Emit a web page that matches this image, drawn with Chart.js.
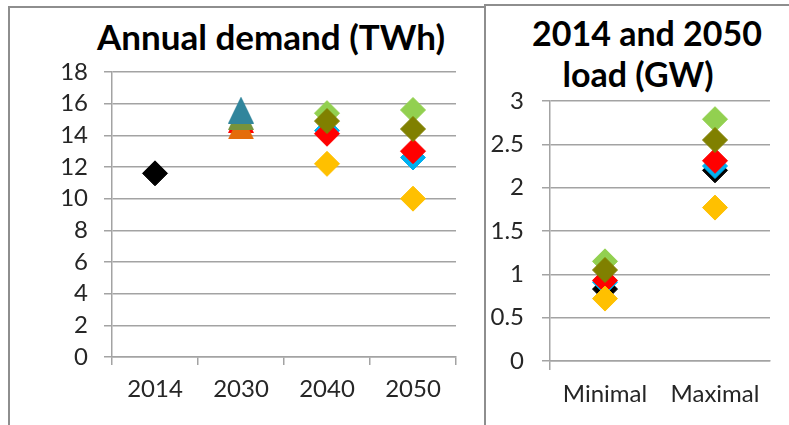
<!DOCTYPE html>
<html>
<head>
<meta charset="utf-8">
<script src="https://cdn.jsdelivr.net/npm/chart.js@4.4.0/dist/chart.umd.min.js"></script>
<style>
  html, body { margin: 0; padding: 0; background: #ffffff; }
  body { width: 789px; height: 425px; position: relative; overflow: hidden; font-family: Lato, "Open Sans", sans-serif; }
  .panel { position: absolute; box-sizing: border-box; border: 2px solid #8e8e8e; }
  #leftPanel { left: 8px; top: 6px; width: 478px; height: 450px; }
  #rightPanel { left: 484px; top: 4px; width: 330px; height: 450px; }
  .title { position: absolute; font-weight: bold; color: #000; text-align: center; white-space: nowrap; font-size: 35px; line-height: 40px; }
  #demandTitle { left: 71px; width: 400px; top: 16px; }
  #loadTitle1 { left: 497px; width: 300px; top: 13px; font-size: 34px; }
  #loadTitle2 { left: 488px; width: 300px; top: 54px; font-size: 34px; }
  #demandWrap { position: absolute; left: 0; top: 0; width: 484px; height: 425px; }
  #loadWrap { position: absolute; left: 486px; top: 0; width: 303px; height: 425px; }
</style>
</head>
<body>
<div class="panel" id="leftPanel"></div>
<div class="panel" id="rightPanel"></div>
<div class="title" id="demandTitle">Annual demand (TWh)</div>
<div class="title" id="loadTitle1">2014 and 2050</div>
<div class="title" id="loadTitle2">load (GW)</div>
<div id="demandWrap"><canvas id="demandChart" width="484" height="425"></canvas></div>
<div id="loadWrap"><canvas id="loadChart" width="303" height="425"></canvas></div>

<script>
// ---- Annual demand (TWh) by year ----
const yearLabels = ['2014', '2030', '2040', '2050'];
const demandActual     = [11.6, null, null, null];
const demandBlue       = [null, null, 14.3, 12.6];
const demandRed        = [null, null, 14.1, 13.0];
const demandLightGreen = [null, null, 15.4, 15.6];
const demandOlive      = [null, null, 14.9, 14.4];
const demandGold       = [null, null, 12.2, 10.0];
// 2030 projections (triangles)
const demandTeal2030   = [null, 15.6, null, null];
const demandGreen2030  = [null, 15.2, null, null];
const demandRed2030    = [null, 15.0, null, null];
const demandOrange2030 = [null, 14.6, null, null];
const demandAxis = { min: 0, max: 18, step: 2 };

// ---- 2014 and 2050 load (GW) ----
const loadLabels = ['Minimal', 'Maximal'];
const loadBlack      = [0.83, 2.20];
const loadBlue       = [0.91, 2.25];
const loadRed        = [0.93, 2.31];
const loadLightGreen = [1.15, 2.79];
const loadOlive      = [1.05, 2.55];
const loadGold       = [0.72, 1.77];
const loadAxis = { min: 0, max: 3, step: 0.5 };

const GRID = '#a3a3a3';
const TICK_FONT = { family: 'Lato', size: 24 };

// Solid upright triangle marker, centred on its bounding box
function triangleMarker(color) {
  const c = document.createElement('canvas');
  c.width = 26; c.height = 27;
  const g = c.getContext('2d');
  g.fillStyle = color;
  g.beginPath();
  g.moveTo(13, 0);
  g.lineTo(26, 27);
  g.lineTo(0, 27);
  g.closePath();
  g.fill();
  return c;
}

function diamond(data, color) {
  return { data, pointStyle: 'rectRot', pointRadius: 12.5, pointBackgroundColor: color,
           pointBorderColor: color, pointBorderWidth: 1, showLine: false };
}
function triangle(data, color) {
  return { data, pointStyle: triangleMarker(color), pointRadius: 13, showLine: false,
           pointBackgroundColor: color, pointBorderColor: color };
}

const common = {
  responsive: false,
  animation: false,
  events: [],
  plugins: { legend: { display: false }, tooltip: { enabled: false }, title: { display: false } },
};

// First dataset is painted on top
new Chart(document.getElementById('demandChart'), {
  type: 'line',
  data: {
    labels: yearLabels,
    datasets: [
      triangle(demandTeal2030, '#31859c'),
      triangle(demandGreen2030, '#77933c'),
      triangle(demandOrange2030, '#e46c0a'),
      triangle(demandRed2030, '#ff0000'),
      diamond(demandGold, '#ffc000'),
      diamond(demandOlive, '#808000'),
      diamond(demandLightGreen, '#92d050'),
      diamond(demandRed, '#ff0000'),
      diamond(demandBlue, '#00b0f0'),
      diamond(demandActual, '#000000'),
    ],
  },
  options: Object.assign({}, common, {
    layout: { padding: { top: 72, right: 28, left: 0, bottom: 0 } },
    scales: {
      x: {
        type: 'category',
        offset: true,
        grid: { offset: true, drawOnChartArea: false, drawTicks: true, tickLength: 8, color: GRID, lineWidth: 1.5 },
        border: { display: true, color: GRID, width: 1.5 },
        ticks: { color: '#262626', font: TICK_FONT, padding: 10, maxRotation: 0, autoSkip: false },
        afterFit: (s) => { s.height = 68; },
      },
      y: {
        min: demandAxis.min, max: demandAxis.max,
        grid: { color: GRID, lineWidth: 1.5, tickLength: 8 },
        border: { display: true, color: GRID, width: 1.5 },
        ticks: { stepSize: demandAxis.step, color: '#262626', font: TICK_FONT, padding: 16, autoSkip: false },
        afterFit: (s) => { s.width = 112; },
      },
    },
  }),
});

new Chart(document.getElementById('loadChart'), {
  type: 'line',
  data: {
    labels: loadLabels,
    datasets: [
      diamond(loadGold, '#ffc000'),
      diamond(loadOlive, '#808000'),
      diamond(loadLightGreen, '#92d050'),
      diamond(loadRed, '#ff0000'),
      diamond(loadBlue, '#00b0f0'),
      diamond(loadBlack, '#000000'),
    ],
  },
  options: Object.assign({}, common, {
    layout: { padding: { top: 101, right: 19, left: 0, bottom: 0 } },
    scales: {
      x: {
        type: 'category',
        offset: true,
        grid: { offset: true, drawOnChartArea: false, drawTicks: true, tickLength: 9,
                color: (ctx) => ctx.index === 0 ? GRID : 'rgba(0,0,0,0)', lineWidth: 1.5 },
        border: { display: true, color: GRID, width: 1.5 },
        ticks: { color: '#262626', font: TICK_FONT, padding: 10, maxRotation: 0, autoSkip: false },
        afterFit: (s) => { s.height = 64; },
      },
      y: {
        min: loadAxis.min, max: loadAxis.max,
        grid: { color: GRID, lineWidth: 1.5, tickLength: 8 },
        border: { display: true, color: GRID, width: 1.5 },
        ticks: { stepSize: loadAxis.step, color: '#262626', font: TICK_FONT, padding: 18, autoSkip: false,
                 callback: (v) => String(v) },
        afterFit: (s) => { s.width = 64; },
      },
    },
  }),
});
</script>
</body>
</html>
